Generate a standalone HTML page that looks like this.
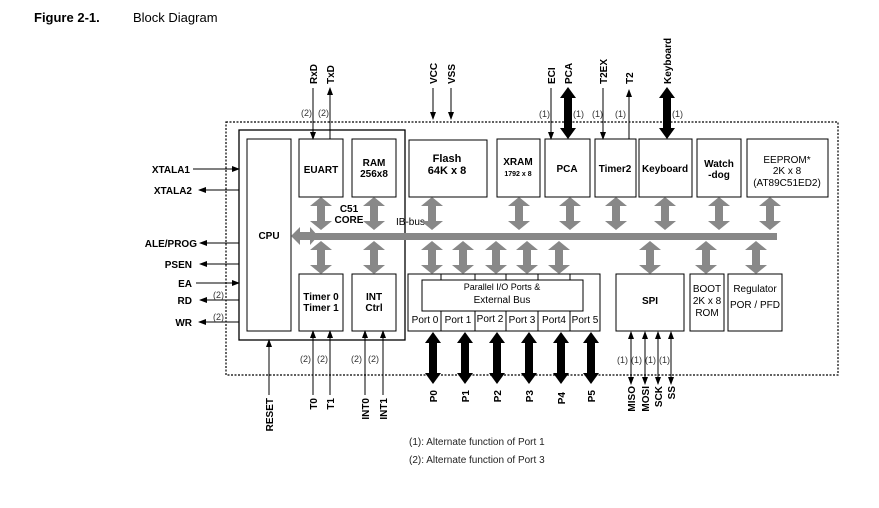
<!DOCTYPE html>
<html><head><meta charset="utf-8"><style>
html,body{margin:0;padding:0;background:#fff;}
svg{display:block;font-family:"Liberation Sans",Arial,sans-serif;}
.b{font-weight:bold;font-size:10px;fill:#000}
.s{font-size:9px;fill:#333}
</style></head><body>
<svg width="879" height="508" viewBox="0 0 879 508">
<defs>
<polygon id="g1" points="0,0 11,9 4,9 4,24 11,24 0,33 -11,24 -4,24 -4,9 -11,9" fill="#888"/>
<polygon id="k1" points="0,0 8,11 4,11 4,41 8,41 0,52 -8,41 -4,41 -4,11 -8,11" fill="#000"/>
<marker id="ah" markerWidth="8" markerHeight="8" refX="7" refY="3" orient="auto" markerUnits="userSpaceOnUse"><path d="M0,0 L8,3 L0,6 z" fill="#000"/></marker>
</defs>
<text x="34" y="22" font-size="13" font-weight="bold">Figure 2-1.</text>
<text x="133" y="22" font-size="13">Block Diagram</text>

<!-- dotted outline -->
<rect x="226" y="122" width="612" height="253" fill="none" stroke="#000" stroke-width="1.2" stroke-dasharray="2,1.5"/>
<!-- core box -->
<rect x="239" y="130" width="166" height="210" fill="none" stroke="#000" stroke-width="1.3"/>
<text x="349" y="212" class="b" font-size="9" text-anchor="middle">C51</text>
<text x="349" y="223" class="b" font-size="9" text-anchor="middle">CORE</text>

<g fill="#fff" stroke="#000" stroke-width="1">
<rect x="247" y="139" width="44" height="192"/>
<rect x="299" y="139" width="44" height="58"/>
<rect x="352" y="139" width="44" height="58"/>
<rect x="299" y="274" width="44" height="57"/>
<rect x="352" y="274" width="44" height="57"/>
<rect x="409" y="140" width="78" height="57"/>
<rect x="497" y="139" width="43" height="58"/>
<rect x="545" y="139" width="45" height="58"/>
<rect x="595" y="139" width="41" height="58"/>
<rect x="639" y="139" width="53" height="58"/>
<rect x="697" y="139" width="44" height="58"/>
<rect x="747" y="139" width="81" height="58"/>
<rect x="408" y="274" width="192" height="57"/>
<rect x="422" y="280" width="161" height="31"/>
<rect x="616" y="274" width="68" height="57"/>
<rect x="690" y="274" width="34" height="57"/>
<rect x="728" y="274" width="54" height="57"/>
</g>
<g stroke="#000" stroke-width="1">
<line x1="441" y1="311" x2="441" y2="331"/><line x1="475" y1="311" x2="475" y2="331"/>
<line x1="506" y1="311" x2="506" y2="331"/><line x1="538" y1="311" x2="538" y2="331"/>
<line x1="570" y1="311" x2="570" y2="331"/>
<line x1="441" y1="274" x2="441" y2="280"/><line x1="475" y1="274" x2="475" y2="280"/>
<line x1="506" y1="274" x2="506" y2="280"/><line x1="538" y1="274" x2="538" y2="280"/>
<line x1="570" y1="274" x2="570" y2="280"/>
</g>

<!-- block texts -->
<g class="b" text-anchor="middle">
<text x="269" y="239">CPU</text>
<text x="321" y="173">EUART</text>
<text x="374" y="166">RAM</text><text x="374" y="177">256x8</text>
<text x="321" y="300">Timer 0</text><text x="321" y="311">Timer 1</text>
<text x="374" y="300">INT</text><text x="374" y="311">Ctrl</text>
<text x="447" y="162" font-size="11">Flash</text><text x="447" y="174" font-size="11">64K x 8</text>
<text x="518" y="165">XRAM</text><text x="518" y="176" font-size="7">1792 x 8</text>
<text x="567" y="172">PCA</text>
<text x="615" y="172">Timer2</text>
<text x="665" y="172">Keyboard</text>
<text x="719" y="167">Watch</text><text x="719" y="178">-dog</text>
<text x="787" y="163" font-weight="normal">EEPROM*</text><text x="787" y="174" font-weight="normal">2K x 8</text><text x="787" y="186" font-weight="normal">(AT89C51ED2)</text>
<text x="502" y="290" font-size="9" font-weight="normal">Parallel I/O Ports &amp;</text>
<text x="502" y="303" font-weight="normal">External Bus</text>
<text x="650" y="304">SPI</text>
<text x="707" y="292" font-weight="normal">BOOT</text><text x="707" y="304" font-weight="normal">2K x 8</text><text x="707" y="316" font-weight="normal">ROM</text>
<text x="755" y="292" font-weight="normal">Regulator</text><text x="755" y="308" font-weight="normal">POR / PFD</text>
</g>
<g font-size="10" text-anchor="middle" fill="#000">
<text x="425" y="323">Port 0</text><text x="458" y="323">Port 1</text><text x="490" y="322">Port 2</text>
<text x="522" y="323">Port 3</text><text x="554" y="323">Port4</text><text x="585" y="323">Port 5</text>
</g>
<text x="396" y="225" font-size="10" fill="#000">IB-bus</text>

<!-- bus -->
<rect x="310" y="233" width="467" height="7" fill="#888"/>
<polygon points="291,236 300,227 300,232 310,232 310,227 318,236 310,245 310,240 300,240 300,245" fill="#888"/>
<g>
<use href="#g1" x="321" y="197"/><use href="#g1" x="374" y="197"/>
<use href="#g1" x="432" y="197"/><use href="#g1" x="519" y="197"/>
<use href="#g1" x="570" y="197"/><use href="#g1" x="616" y="197"/>
<use href="#g1" x="665" y="197"/><use href="#g1" x="719" y="197"/>
<use href="#g1" x="770" y="197"/>
<use href="#g1" x="321" y="241"/><use href="#g1" x="374" y="241"/>
<use href="#g1" x="432" y="241"/><use href="#g1" x="463" y="241"/>
<use href="#g1" x="496" y="241"/><use href="#g1" x="527" y="241"/>
<use href="#g1" x="559" y="241"/><use href="#g1" x="650" y="241"/>
<use href="#g1" x="706" y="241"/><use href="#g1" x="756" y="241"/>
</g>
<!-- port black arrows -->
<use href="#k1" x="433" y="332"/><use href="#k1" x="465" y="332"/>
<use href="#k1" x="497" y="332"/><use href="#k1" x="529" y="332"/>
<use href="#k1" x="561" y="332"/><use href="#k1" x="591" y="332"/>
<use href="#k1" x="568" y="87"/><use href="#k1" x="667" y="87"/>

<!-- thin lines -->
<g stroke="#000" stroke-width="1" fill="none">
<line x1="193" y1="169" x2="239" y2="169" marker-end="url(#ah)"/>
<line x1="239" y1="190" x2="199" y2="190" marker-end="url(#ah)"/>
<line x1="239" y1="243" x2="200" y2="243" marker-end="url(#ah)"/>
<line x1="239" y1="264" x2="200" y2="264" marker-end="url(#ah)"/>
<line x1="196" y1="283" x2="239" y2="283" marker-end="url(#ah)"/>
<line x1="239" y1="300" x2="200" y2="300" marker-end="url(#ah)"/>
<line x1="239" y1="322" x2="199" y2="322" marker-end="url(#ah)"/>
<line x1="313" y1="88" x2="313" y2="139" marker-end="url(#ah)"/>
<line x1="330" y1="139" x2="330" y2="88" marker-end="url(#ah)"/>
<line x1="433" y1="88" x2="433" y2="119" marker-end="url(#ah)"/>
<line x1="451" y1="88" x2="451" y2="119" marker-end="url(#ah)"/>
<line x1="551" y1="88" x2="551" y2="139" marker-end="url(#ah)"/>
<line x1="603" y1="88" x2="603" y2="139" marker-end="url(#ah)"/>
<line x1="629" y1="139" x2="629" y2="90" marker-end="url(#ah)"/>
<line x1="629" y1="120" x2="629" y2="139"/>
<line x1="269" y1="395" x2="269" y2="340" marker-end="url(#ah)"/>
<line x1="313" y1="395" x2="313" y2="331" marker-end="url(#ah)"/>
<line x1="330" y1="395" x2="330" y2="331" marker-end="url(#ah)"/>
<line x1="365" y1="395" x2="365" y2="331" marker-end="url(#ah)"/>
<line x1="383" y1="395" x2="383" y2="331" marker-end="url(#ah)"/>
<line x1="631" y1="340" x2="631" y2="384" marker-end="url(#ah)"/><line x1="631" y1="345" x2="631" y2="332" marker-end="url(#ah)"/>
<line x1="645" y1="340" x2="645" y2="384" marker-end="url(#ah)"/><line x1="645" y1="345" x2="645" y2="332" marker-end="url(#ah)"/>
<line x1="658" y1="340" x2="658" y2="384" marker-end="url(#ah)"/><line x1="658" y1="345" x2="658" y2="332" marker-end="url(#ah)"/>
<line x1="671" y1="340" x2="671" y2="384" marker-end="url(#ah)"/><line x1="671" y1="345" x2="671" y2="332" marker-end="url(#ah)"/>
</g>

<!-- left labels -->
<g class="b" text-anchor="end">
<text x="190" y="173">XTALA1</text><text x="192" y="194">XTALA2</text>
<text x="197" y="247">ALE/PROG</text><text x="192" y="268">PSEN</text>
<text x="192" y="287">EA</text><text x="192" y="304">RD</text><text x="192" y="326">WR</text>
</g>
<g class="s"><text x="213" y="298">(2)</text><text x="213" y="320">(2)</text>
<text x="301" y="116">(2)</text><text x="318" y="116">(2)</text>
<text x="539" y="117">(1)</text><text x="573" y="117">(1)</text><text x="592" y="117">(1)</text>
<text x="615" y="117">(1)</text><text x="672" y="117">(1)</text>
<text x="300" y="362">(2)</text><text x="317" y="362">(2)</text>
<text x="351" y="362">(2)</text><text x="368" y="362">(2)</text>
<text x="617" y="363">(1)</text><text x="631" y="363">(1)</text><text x="645" y="363">(1)</text><text x="659" y="363">(1)</text>
</g>

<!-- rotated labels top -->
<g class="b">
<text transform="translate(317,84) rotate(-90)">RxD</text>
<text transform="translate(334,84) rotate(-90)">TxD</text>
<text transform="translate(437,84) rotate(-90)">VCC</text>
<text transform="translate(455,84) rotate(-90)">VSS</text>
<text transform="translate(555,84) rotate(-90)">ECI</text>
<text transform="translate(572,84) rotate(-90)">PCA</text>
<text transform="translate(607,84) rotate(-90)">T2EX</text>
<text transform="translate(633,84) rotate(-90)">T2</text>
<text transform="translate(671,84) rotate(-90)">Keyboard</text>
</g>
<g class="b" text-anchor="end">
<text transform="translate(273,398) rotate(-90)">RESET</text>
<text transform="translate(317,398) rotate(-90)">T0</text>
<text transform="translate(334,398) rotate(-90)">T1</text>
<text transform="translate(369,398) rotate(-90)">INT0</text>
<text transform="translate(387,398) rotate(-90)">INT1</text>
<text transform="translate(437,390) rotate(-90)">P0</text>
<text transform="translate(469,390) rotate(-90)">P1</text>
<text transform="translate(501,390) rotate(-90)">P2</text>
<text transform="translate(533,390) rotate(-90)">P3</text>
<text transform="translate(565,392) rotate(-90)">P4</text>
<text transform="translate(595,390) rotate(-90)">P5</text>
<text transform="translate(635,386) rotate(-90)">MISO</text>
<text transform="translate(649,386) rotate(-90)">MOSI</text>
<text transform="translate(662,386) rotate(-90)">SCK</text>
<text transform="translate(675,386) rotate(-90)">SS</text>
</g>

<text x="409" y="445" font-size="10" fill="#222">(1): Alternate function of Port 1</text>
<text x="409" y="463" font-size="10" fill="#222">(2): Alternate function of Port 3</text>
</svg>
</body></html>
